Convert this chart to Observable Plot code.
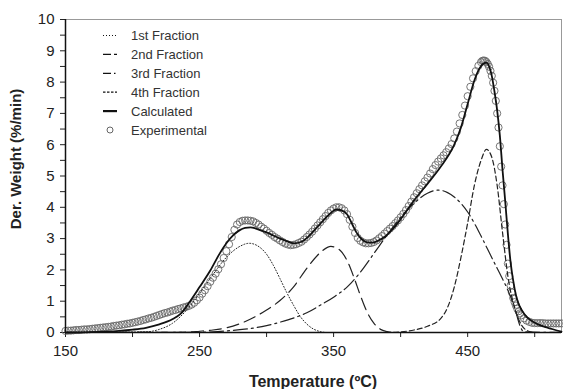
<!DOCTYPE html>
<html><head><meta charset="utf-8">
<script src="https://cdn.jsdelivr.net/npm/d3@7"></script>
<script src="https://cdn.jsdelivr.net/npm/@observablehq/plot@0.6"></script>
<style>
body{margin:0;background:#fff}
#chart{width:563px;height:389px}
</style>
</head><body><div id="chart"></div>
<script>
// Experimental points (temperature ºC, derivative weight %/min)
const expT = [150,152,154,156,158,160,162,164,166,168,170,172,174,176,178,180,182,184,186,188,190,192,194,196,198,200,202,204,206,208,210,212,214,216,218,220,222,224,226,228,230,232,234,236,238,240,242,244,246,248,250,252,254,256,258,260,262,264,266,268,270,272,274,276,278,280,282,284,286,288,290,292,294,296,298,300,302,304,306,308,310,312,314,316,318,320,322,324,326,328,330,332,334,336,338,340,342,344,346,348,350,352,354,356,358,360,362,364,366,368,370,372,374,376,378,380,382,384,386,388,390,392,394,396,398,400,402,404,406,408,410,412,414,416,418,420,422,424,426,428,430,432,434,436,438,440,442,444,446,448,450,452,454,456,458,460,461,462,463,464,465,466,467,468,469,470,471,472,473,474,475,476,477,478,479,480,481,482,483,484,485,486,487,488,489,490,492,494,496,498,500,502,504,506,508,510,512,514,516,518,520];
const expV = [0.05,0.06,0.06,0.07,0.08,0.08,0.09,0.10,0.10,0.11,0.12,0.13,0.14,0.15,0.16,0.17,0.18,0.19,0.21,0.22,0.23,0.25,0.26,0.28,0.29,0.31,0.33,0.35,0.37,0.40,0.42,0.45,0.47,0.50,0.53,0.56,0.59,0.62,0.64,0.67,0.70,0.72,0.75,0.77,0.80,0.82,0.85,0.89,0.95,1.03,1.12,1.24,1.35,1.48,1.62,1.75,1.88,2.02,2.18,2.38,2.60,2.82,3.05,3.28,3.45,3.53,3.57,3.58,3.58,3.57,3.55,3.50,3.45,3.38,3.32,3.25,3.18,3.12,3.05,3.00,2.94,2.89,2.84,2.81,2.79,2.80,2.82,2.86,2.90,2.97,3.05,3.13,3.22,3.32,3.42,3.52,3.62,3.72,3.82,3.90,3.96,4.00,4.00,3.97,3.90,3.78,3.60,3.38,3.18,3.02,2.93,2.88,2.85,2.85,2.86,2.89,2.94,3.01,3.08,3.16,3.24,3.32,3.40,3.49,3.58,3.68,3.79,3.91,4.04,4.18,4.32,4.45,4.58,4.70,4.83,4.95,5.08,5.22,5.35,5.46,5.56,5.66,5.76,5.88,6.02,6.20,6.42,6.68,6.95,7.25,7.55,7.85,8.12,8.35,8.52,8.64,8.68,8.69,8.68,8.64,8.58,8.49,8.36,8.20,7.98,7.72,7.40,7.00,6.55,5.95,5.30,4.70,4.10,3.45,2.80,2.20,1.80,1.50,1.28,1.10,0.97,0.86,0.76,0.68,0.61,0.55,0.45,0.38,0.34,0.31,0.30,0.30,0.30,0.30,0.29,0.29,0.29,0.29,0.29,0.29,0.29];

// Calculated curve
const calcT = [150,170,190,200,210,220,230,236,243,250,258,265,270,275,280,284,288,292,296,300,305,310,315,320,326,332,338,345,349,352,356,360,364,367,371,375,379,383,388,394,400,410,420,430,440,445,450,455,459,462,464,466,468,470,472,474,476,478,480,482,484,486,488,490,494,500,509,520];
const calcV = [0.0,0.01,0.05,0.09,0.15,0.26,0.43,0.6,1.0,1.45,1.98,2.52,2.85,3.1,3.27,3.34,3.36,3.32,3.26,3.2,3.1,3.0,2.92,2.85,2.9,3.1,3.38,3.7,3.86,3.93,3.9,3.78,3.45,3.2,2.98,2.88,2.87,2.93,3.05,3.3,3.62,4.22,4.75,5.3,6.0,6.55,7.3,8.05,8.45,8.6,8.62,8.5,8.2,7.7,7.1,6.3,5.2,4.2,3.15,2.25,1.65,1.2,0.92,0.74,0.5,0.31,0.16,0.03];

// Fractions
const f1T = [150,210,220,230,240,250,260,270,280,287,295,300,305,310,315,320,325,330,335,340,345,520];
const f1V = [0,0.02,0.1,0.3,0.7,1.25,1.85,2.4,2.75,2.85,2.72,2.5,2.15,1.72,1.28,0.88,0.52,0.27,0.11,0.03,0,0];
const f2T = [150,240,250,260,270,280,290,300,310,320,330,340,348,355,360,365,370,375,380,385,390,395,520];
const f2V = [0,0.01,0.04,0.08,0.15,0.28,0.47,0.72,1.02,1.45,2.05,2.55,2.75,2.62,2.3,1.78,1.18,0.65,0.3,0.1,0.03,0,0];
const f3T = [150,250,260,270,280,290,300,310,320,330,340,350,360,370,380,390,400,410,420,428,435,440,450,460,465,470,475,480,485,489,492,520];
const f3V = [0,0.01,0.02,0.05,0.09,0.14,0.22,0.33,0.46,0.63,0.87,1.13,1.45,1.93,2.52,3.12,3.68,4.13,4.45,4.55,4.47,4.33,3.85,3.08,2.65,2.22,1.8,1.35,0.8,0.22,0.02,0];
const f4T = [150,390,400,410,420,430,435,440,445,450,455,460,464,468,472,476,480,485,490,495,500,520];
const f4V = [0,0,0.02,0.08,0.2,0.45,0.8,1.45,2.4,3.5,4.7,5.5,5.85,5.6,4.7,3.2,1.8,0.8,0.25,0.05,0,0];

const yMajor = [0,1,2,3,4,5,6,7,8,9,10];
const yMinor = [0.5,1.5,2.5,3.5,4.5,5.5,6.5,7.5,8.5,9.5];
const xMajor = [150,250,350,450];
const xMinor = [200,300,400,500];

const legendNames = ["1st Fraction","2nd Fraction","3rd Fraction","4th Fraction","Calculated","Experimental"];
const xLabel = "Temperature (ºC)";
const yLabel = "Der. Weight (%/min)";

const rows = (T, V) => T.map((t, i) => ({t, v: V[i]}));
const ink = "#222";

const dashes = {f1: "1,2", f2: "12,6", f3: "14,4,2,4", f4: "5,3"};

const plot = Plot.plot({
  width: 563, height: 389,
  marginLeft: 65, marginRight: 2, marginTop: 19, marginBottom: 57,
  style: {fontFamily: "'Liberation Sans', Arial, sans-serif", fontSize: "15px", color: ink, background: "#fff", overflow: "visible"},
  x: {domain: [150, 520]},
  y: {domain: [0, 10]},
  marks: [
    Plot.frame({stroke: "#999", strokeWidth: 1}),
    Plot.axisY(yMajor, {tickSize: 5, tickPadding: 6, label: null, fontSize: 15, stroke: ink}),
    Plot.axisY(yMinor, {tickSize: 5, tickFormat: () => "", label: null, stroke: ink}),
    Plot.axisX(xMajor, {tickSize: 5, tickPadding: 8, label: null, fontSize: 15, stroke: ink}),
    Plot.axisX(xMinor, {tickSize: 5, tickFormat: () => "", label: null, stroke: ink}),
    Plot.dot(rows(expT, expV), {x: "t", y: "v", r: 3.6, stroke: "#666", strokeWidth: 0.9, fill: "none"}),
    Plot.line(rows(f1T, f1V), {x: "t", y: "v", curve: "monotone-x", stroke: ink, strokeWidth: 1, strokeDasharray: dashes.f1}),
    Plot.line(rows(f2T, f2V), {x: "t", y: "v", curve: "monotone-x", stroke: ink, strokeWidth: 1.2, strokeDasharray: dashes.f2}),
    Plot.line(rows(f3T, f3V), {x: "t", y: "v", curve: "monotone-x", stroke: ink, strokeWidth: 1.2, strokeDasharray: dashes.f3}),
    Plot.line(rows(f4T, f4V), {x: "t", y: "v", curve: "monotone-x", stroke: ink, strokeWidth: 1.2, strokeDasharray: dashes.f4}),
    Plot.line(rows(calcT, calcV), {x: "t", y: "v", curve: "monotone-x", stroke: "#111", strokeWidth: 1.8}),
    Plot.ruleX([150], {stroke: "#111", strokeWidth: 1.5}),
    Plot.ruleY([0], {stroke: "#111", strokeWidth: 1.5})
  ]
});
document.getElementById("chart").appendChild(plot);

// Axis titles and legend drawn into the same SVG
const svg = d3.select(plot);
const font = "'Liberation Sans', Arial, sans-serif";
svg.append("text").attr("x", 313).attr("y", 387).attr("text-anchor", "middle")
  .attr("font-family", font).attr("font-size", 16).attr("font-weight", "bold").attr("fill", ink).text(xLabel);
svg.append("text").attr("transform", "translate(21,159) rotate(-90)").attr("text-anchor", "middle")
  .attr("font-family", font).attr("font-size", 15).attr("font-weight", "bold").attr("fill", ink).text(yLabel);

const lg = svg.append("g").attr("font-family", font).attr("font-size", 13).attr("fill", "#333").attr("text-anchor", "start");
const legendDash = ["1,2", "8,3,3,20", "8,3,1.5,20", "2.5,1.5", null, null];
const legendWidth = [1, 1.3, 1.3, 1.2, 2.2, 0];
legendNames.forEach((name, i) => {
  const y = 35.5 + i * 18.9;
  if (i < 5) {
    const l = lg.append("line").attr("x1", 103).attr("x2", 117).attr("y1", y).attr("y2", y)
      .attr("stroke", "#111").attr("stroke-width", legendWidth[i]);
    if (legendDash[i]) l.attr("stroke-dasharray", legendDash[i]);
  } else {
    lg.append("circle").attr("cx", 110).attr("cy", y).attr("r", 3).attr("fill", "none").attr("stroke", "#555").attr("stroke-width", 0.9);
  }
  lg.append("text").attr("x", 131).attr("y", y).attr("dy", "0.35em").attr("text-anchor", "start").text(name);
});
</script>
</body></html>
